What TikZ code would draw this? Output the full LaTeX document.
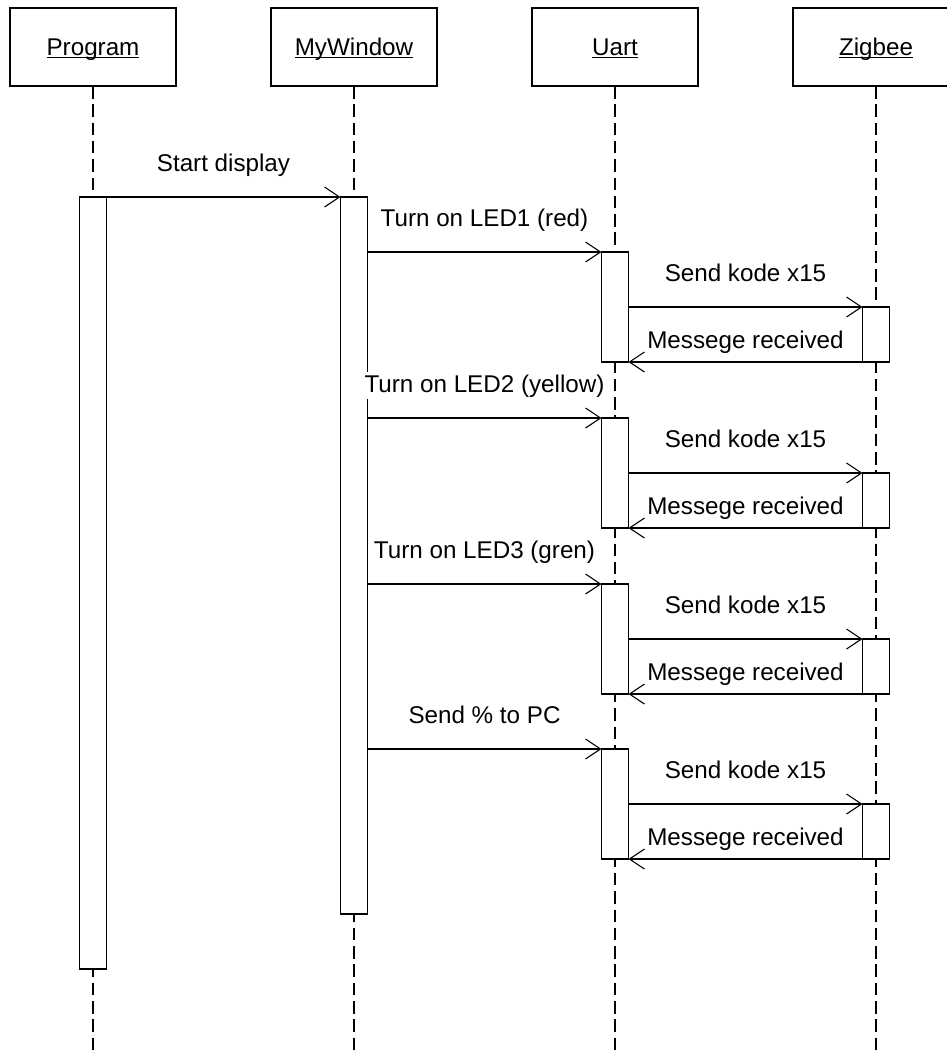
\documentclass[tikz,border=0pt]{standalone}
\usepackage{fontspec}
\setmainfont{Liberation Sans}
\usepackage{tikz}
\usetikzlibrary{arrows.meta, positioning}
\newcommand{\objname}[1]{\sbox0{#1}\rlap{\rule[-2.5pt]{\wd0}{1pt}}\usebox0}
\tikzset{
  actor/.style={rectangle, draw, line width=1.1pt, minimum width=166pt,
    minimum height=78pt, inner sep=0pt, outer sep=0pt, text height=17pt,
    text depth=0pt, font=\fontsize{24.2}{29}\selectfont},
  life/.style={line width=1.1pt, dash pattern=on 12.5pt off 5.8pt},
  bar/.style={rectangle, draw, fill=white, line width=1.1pt, anchor=north,
    minimum width=27pt, inner sep=0pt, outer sep=0pt},
  msg/.style={-{Straight Barb[length=15pt, width=20pt]}, line width=1.1pt},
  lbl/.style={midway, anchor=base, yshift=26pt, fill=white, inner sep=2pt,
    font=\fontsize{24.2}{29}\selectfont}
}
\begin{document}
\begin{tikzpicture}[x=1pt, y=-1pt, node distance=95pt]
  \clip (0,0) rectangle (947,1050);
  % objects
  \node[actor] (prog) at (93,47) {\objname{Program}};
  \node[actor, right=of prog] (win) {\objname{MyWindow}};
  \node[actor, right=of win] (uart) {\objname{Uart}};
  \node[actor, right=of uart] (zigbee) {\objname{Zigbee}};
  % lifelines
  \coordinate (progend) at (prog |- 0,1050);
  \coordinate (winend) at (win |- 0,1050);
  \coordinate (uartend) at (uart |- 0,1050);
  \coordinate (zigend) at (zigbee |- 0,1050);
  \draw[life] (prog) -- (progend);
  \draw[life] (win) -- (winend);
  \draw[life] (uart) -- (uartend);
  \draw[life] (zigbee) -- (zigend);
  % activations
  \node[bar, minimum height=772pt] (progbar) at (prog |- 0,197) {};
  \node[bar, minimum height=717pt] (winbar) at (win |- 0,197) {};
  \draw[msg] (progbar.north east) -- node[lbl] {Start display} (winbar.north west);
  \foreach \y/\txt [count=\i] in {252/Turn on LED1 (red), 418/Turn on LED2 (yellow),
      584/Turn on LED3 (gren), 749/Send \% to PC} {
    \node[bar, minimum height=110pt] (uart\i) at (uart |- 0,\y) {};
    \node[bar, minimum height=55pt] (zig\i) at (zigbee |- 0,{\y+55}) {};
    \draw[msg] (winbar.east |- uart\i.north) -- node[lbl] {\txt} (uart\i.north west);
    \draw[msg] (uart\i.east |- zig\i.north) -- node[lbl] {Send kode x15} (zig\i.north west);
    \draw[msg] (zig\i.south west) -- node[lbl, yshift=-12pt] {Messege received} (uart\i.south east);
  }
\end{tikzpicture}
\end{document}
